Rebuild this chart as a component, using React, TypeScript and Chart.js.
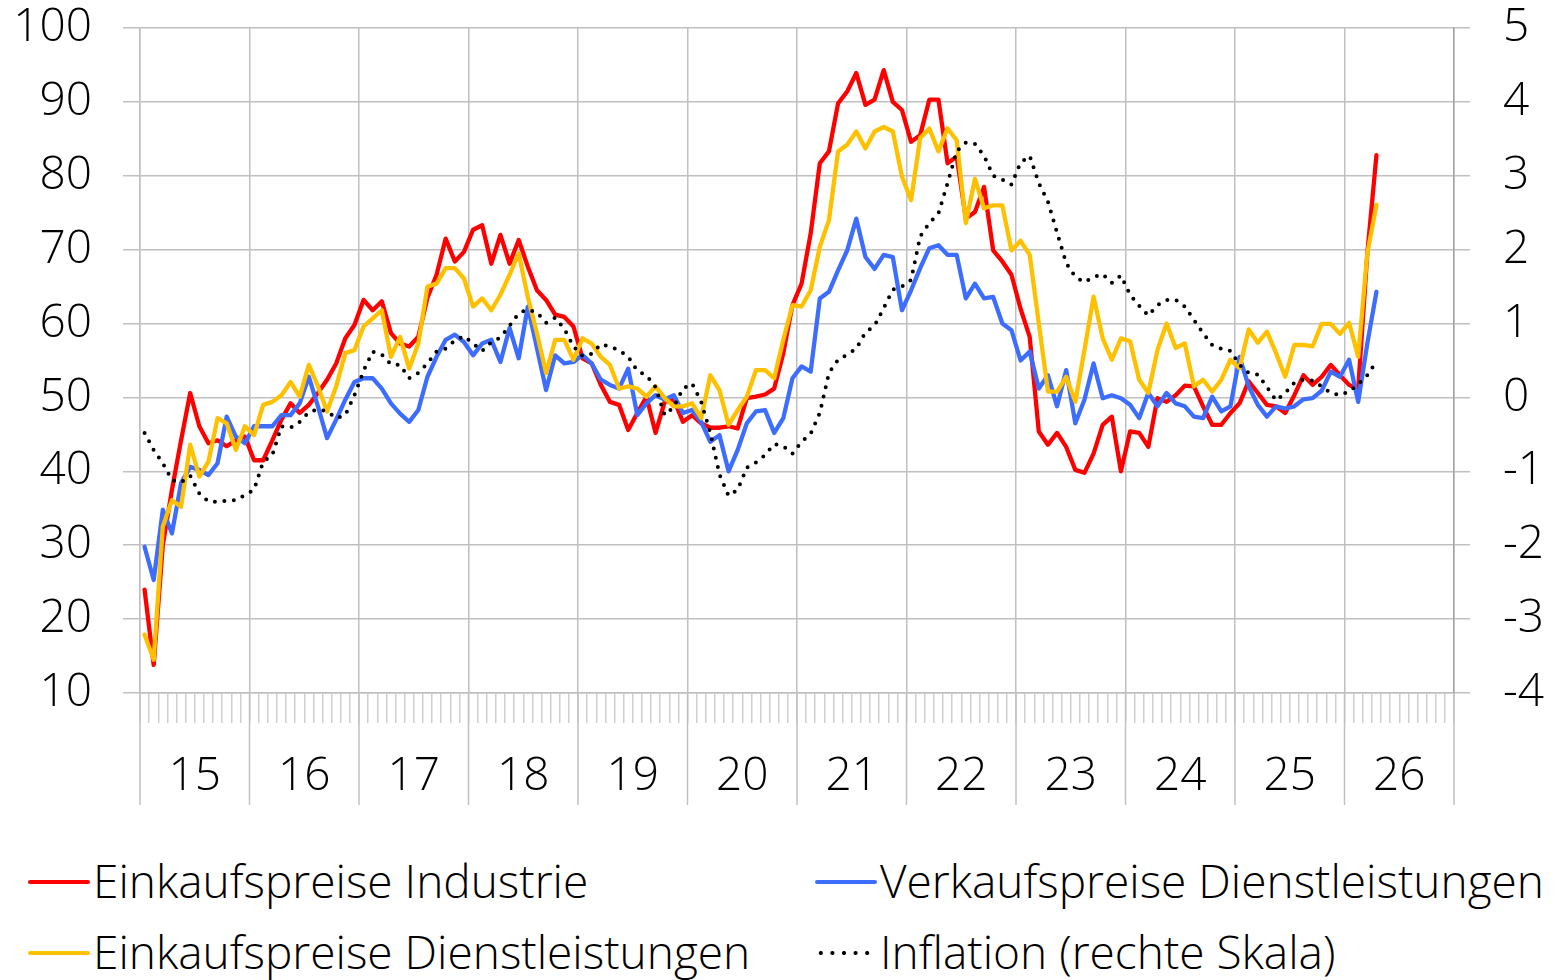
import React, { useEffect, useRef } from 'react';
import { Chart, registerables } from 'chart.js';
Chart.register(...registerables);

const yearLabels = ['15', '16', '17', '18', '19', '20', '21', '22', '23', '24', '25', '26'];
const monthsTotal = 144;

const einkaufIndustrie = [
  24.0, 13.8, 30, 37.5, 44.2, 50.6, 46.1, 43.8, 44.2, 43.4, 44.2, 44.7,
  41.5, 41.5, 44.2, 47, 49.2, 47.9, 49, 50.6, 52.4, 54.6, 58, 59.8,
  63.2, 61.8, 63.0, 58.7, 57.3, 56.9, 58.2, 63.5, 66.6, 71.5, 68.4, 69.7,
  72.7, 73.3, 68.1, 72, 68.1, 71.3, 67.7, 64.5, 63.2, 61.2, 60.9, 59.6,
  55.3, 54.6, 51.7, 49.4, 49.0, 45.6, 47.9, 50.1, 45.2, 49.4, 49.7, 46.7,
  47.6, 46.5, 45.9, 45.9, 46.1, 45.8, 49.9, 50.1, 50.4, 51.2, 56, 62.5,
  65.4, 72.2, 81.7, 83.3, 89.8, 91.4, 93.9, 89.6, 90.3, 94.3, 90.0, 88.9,
  84.6, 85.5, 90.3, 90.3, 81.7, 82.6, 74.2, 75.1, 78.5, 69.9, 68.4, 66.6,
  62, 58.2, 45.4, 43.6, 45.2, 43.3, 40.2, 39.8, 42.4, 46.3, 47.4, 40.0,
  45.4, 45.2, 43.3, 49.9, 49.4, 50.3, 51.6, 51.5, 48.8, 46.3, 46.3, 47.9,
  49.2, 52.2, 50.6, 49.0, 48.8, 47.9, 50.3, 53.0, 51.7, 52.8, 54.4, 53.0,
  51.7, 51.2, 69.5, 82.8,
];

const verkaufDienst = [
  29.8, 25.3, 34.8, 31.6, 38.4, 40.6, 40.2, 39.5, 41.1, 47.4, 44.7, 43.8,
  46.1, 46.1, 46.1, 47.6, 47.6, 49.2, 52.8, 48.8, 44.5, 47, 49.7, 52.1,
  52.6, 52.6, 51.2, 49.2, 47.8, 46.7, 48.3, 52.8, 55.5, 57.8, 58.5, 57.5,
  55.7, 57.3, 57.8, 54.8, 59.4, 55.3, 62.3, 56.7, 51, 55.7, 54.6, 54.8,
  55.75, 54.6, 52.4, 51.7, 51.2, 53.9, 47.6, 49.2, 50.3, 49.7, 50.3, 47.9,
  48.3, 46.7, 44, 44.9, 40, 42.9, 46.5, 48.1, 48.3, 45.2, 47.2, 52.6,
  54.2, 53.5, 63.4, 64.3, 67.2, 69.9, 74.2, 69.0, 67.4, 69.3, 69.0, 61.8,
  64.5, 67.5, 70.2, 70.6, 69.3, 69.3, 63.4, 65.4, 63.4, 63.6, 60.0, 59.1,
  55, 56.2, 51.2, 53.0, 48.8, 53.7, 46.5, 49.7, 54.6, 49.9, 50.3, 49.9,
  49.0, 47.2, 50.6, 48.8, 50.6, 49.2, 48.8, 47.4, 47.2, 50.1, 48.1, 48.8,
  55.5, 51.5, 49.0, 47.4, 48.8, 48.5, 48.8, 49.75, 49.9, 50.9, 53.5, 52.8,
  55.1, 49.4, 57.3, 64.3,
];

const einkaufDienst = [
  17.9, 14.5, 32.5, 36.1, 35.2, 43.6, 39.3, 41.3, 47.2, 46.5, 42.9, 46.1,
  44.9, 49.0, 49.4, 50.3, 52.1, 50.1, 54.4, 51.5, 48.1, 51.5, 56, 56.4,
  59.6, 60.7, 61.8, 55.5, 58.2, 53.9, 57.3, 65, 65.4, 67.5, 67.5, 66.1,
  62.3, 63.4, 61.8, 63.9, 66.6, 69.5, 63.6, 58.7, 53.3, 57.8, 57.8, 55.1,
  58, 57.3, 55.5, 54.4, 51.2, 51.5, 51.2, 50.1, 51.5, 49.9, 48.8, 48.8,
  49.2, 47.2, 53.0, 51.0, 46.3, 48.3, 50.1, 53.7, 53.7, 52.6, 57.8, 62.5,
  62.3, 64.5, 70.4, 74, 83.3, 84.2, 86, 83.7, 86, 86.6, 86, 79.9,
  76.7, 85.1, 86.4, 83.3, 86.4, 84.8, 73.6, 79.6, 75.6, 76.0, 76.0, 69.9,
  71.2, 69.3, 60.0, 50.8, 50.8, 52.8, 49.4, 56.4, 63.65, 58.0, 55.1, 58.0,
  57.6, 52.4, 50.6, 56.4, 60.0, 56.7, 57.3, 51.5, 52.4, 50.8, 52.4, 55.1,
  53.95, 59.2, 57.4, 58.9, 56.0, 52.8, 57.1, 57.1, 56.9, 59.95, 59.95, 58.6,
  60.1, 55.5, 69.5, 76.05,
];

const inflation = [
  -0.48, -0.71, -0.89, -1.12, -1.15, -1.06, -1.3, -1.41, -1.41, -1.4, -1.39, -1.32,
  -1.25, -0.87, -0.78, -0.39, -0.41, -0.33, -0.2, -0.16, -0.19, -0.28, -0.24, 0.03,
  0.36, 0.62, 0.58, 0.45, 0.44, 0.26, 0.33, 0.46, 0.62, 0.66, 0.77, 0.83,
  0.73, 0.63, 0.75, 0.81, 0.97, 1.14, 1.19, 1.15, 1.01, 1.08, 0.93, 0.69,
  0.56, 0.59, 0.72, 0.69, 0.64, 0.55, 0.36, 0.3, 0.14, -0.24, -0.13, 0.12,
  0.19, -0.06, -0.48, -1.04, -1.33, -1.25, -0.95, -0.88, -0.78, -0.63, -0.66, -0.76,
  -0.6, -0.49, -0.21, 0.33, 0.51, 0.58, 0.66, 0.88, 0.97, 1.21, 1.46, 1.5,
  1.59, 2.18, 2.36, 2.49, 2.9, 3.33, 3.45, 3.43, 3.27, 3.0, 2.95, 2.88,
  3.18, 3.27, 2.9, 2.65, 2.23, 1.82, 1.63, 1.56, 1.63, 1.67, 1.55, 1.65,
  1.39, 1.24, 1.11, 1.25, 1.32, 1.32, 1.23, 1.05, 0.87, 0.71, 0.66, 0.63,
  0.44, 0.33, 0.31, 0.14, -0.04, 0.06, 0.2, 0.24, 0.23, 0.15, 0.06, 0.03,
  0.08, 0.18, 0.3, 0.49,
];

const seriesNames = [
  'Einkaufspreise Industrie',
  'Verkaufspreise Dienstleistungen',
  'Einkaufspreise Dienstleistungen',
  'Inflation (rechte Skala)',
];

const RED = '#ff0000';
const BLUE = '#3d6dff';
const YELLOW = '#ffc000';
const GRID = '#c0c0c0';
const FONT = "'Open Sans', 'DejaVu Sans', sans-serif";
const FONT_SIZE = 46;

const W = 1555;
const CANVAS_H = 820;
const PLOT_LEFT = 140;
const PLOT_RIGHT = 1454;
const PLOT_TOP = 28;
const PLOT_BOTTOM = 693;
const YEAR_LINE_BOTTOM = 805;

const toPoints = (arr: number[]) => arr.map((v, i) => ({ x: i + 0.5, y: v }));

const yearLinesPlugin = {
  id: 'yearLines',
  afterDraw(chart: any) {
    const { ctx, chartArea, scales } = chart;
    const x = scales.x;
    ctx.save();
    ctx.strokeStyle = GRID;
    ctx.lineWidth = 1.5;
    for (let k = 0; k <= monthsTotal; k += 12) {
      const px = x.getPixelForValue(k);
      ctx.beginPath();
      ctx.moveTo(px, chartArea.bottom);
      ctx.lineTo(px, YEAR_LINE_BOTTOM);
      ctx.stroke();
    }
    ctx.restore();
  },
};

const noVerticalPadding = (s: any) => {
  s.paddingTop = 0;
  s.paddingBottom = 0;
};

function ChartCanvas() {
  const ref = useRef<HTMLCanvasElement | null>(null);
  useEffect(() => {
    if (!ref.current) return;
    const lineBase = {
      borderWidth: 4.3, pointRadius: 0, tension: 0,
      borderJoinStyle: 'round', borderCapStyle: 'round',
    };
    const chart = new Chart(ref.current, {
      type: 'line',
      data: {
        datasets: [
          { ...lineBase, label: seriesNames[0], data: toPoints(einkaufIndustrie), yAxisID: 'y', borderColor: RED, order: 4 },
          { ...lineBase, label: seriesNames[1], data: toPoints(verkaufDienst), yAxisID: 'y', borderColor: BLUE, order: 3 },
          { ...lineBase, label: seriesNames[2], data: toPoints(einkaufDienst), yAxisID: 'y', borderColor: YELLOW, order: 2 },
          {
            ...lineBase, label: seriesNames[3], data: toPoints(inflation), yAxisID: 'y1',
            borderColor: '#000000', borderWidth: 4, borderDash: [0, 9.5], order: 1,
          },
        ],
      } as any,
      options: {
        animation: false,
        responsive: false,
        maintainAspectRatio: false,
        events: [],
        layout: { padding: { top: PLOT_TOP, bottom: 0, left: 0, right: 0 } },
        plugins: { legend: { display: false }, tooltip: { enabled: false } },
        scales: {
          x: {
            type: 'linear',
            min: 0,
            max: monthsTotal,
            afterBuildTicks: (s: any) => {
              s.ticks = Array.from({ length: monthsTotal + 1 }, (_, i) => ({ value: i }));
            },
            afterFit: (s: any) => { s.height = CANVAS_H - PLOT_BOTTOM; },
            ticks: {
              autoSkip: false,
              maxRotation: 0,
              minRotation: 0,
              padding: 26,
              color: '#000',
              font: { family: FONT, size: FONT_SIZE, weight: '300' },
              callback: (v: any) => {
                const n = Math.round(Number(v));
                return n % 12 === 6 ? yearLabels[(n - 6) / 12] : '';
              },
            },
            grid: {
              color: (ctx: any) => (ctx.tick && Math.round(ctx.tick.value) % 12 === 0 ? GRID : 'rgba(0,0,0,0)'),
              lineWidth: 1.5,
              tickLength: 30,
              tickColor: '#cfcfcf',
              tickWidth: 1.5,
            },
            border: { color: GRID, width: 1.5 },
          },
          y: {
            position: 'left',
            min: 10,
            max: 100,
            afterFit: (s: any) => { s.width = PLOT_LEFT; noVerticalPadding(s); },
            ticks: {
              stepSize: 10,
              padding: 31,
              color: '#000',
              font: { family: FONT, size: FONT_SIZE, weight: '300' },
            },
            grid: { color: GRID, lineWidth: 1.5, tickLength: 17, tickColor: GRID },
            border: { color: GRID, width: 1.5 },
          },
          y1: {
            position: 'right',
            min: -4,
            max: 5,
            afterFit: (s: any) => { s.width = W - PLOT_RIGHT; noVerticalPadding(s); },
            ticks: {
              stepSize: 1,
              padding: 33,
              color: '#000',
              font: { family: FONT, size: FONT_SIZE, weight: '300' },
            },
            grid: { drawOnChartArea: false, lineWidth: 1.5, tickLength: 16, tickColor: GRID },
            border: { color: '#a3a3a3', width: 1.5 },
          },
        },
      } as any,
      plugins: [yearLinesPlugin],
    });
    return () => chart.destroy();
  }, []);
  return <canvas ref={ref} width={W} height={CANVAS_H} style={{ display: 'block', width: W, height: CANVAS_H }} />;
}

const legendItems = [
  { name: seriesNames[0], color: RED, dotted: false, left: 28, textLeft: 93, cy: 882 },
  { name: seriesNames[1], color: BLUE, dotted: false, left: 815, textLeft: 880, cy: 882 },
  { name: seriesNames[2], color: YELLOW, dotted: false, left: 28, textLeft: 93, cy: 953 },
  { name: seriesNames[3], color: '#000', dotted: true, left: 815, textLeft: 880, cy: 953 },
];

export default function App() {
  return (
    <div style={{ position: 'absolute', left: 0, top: 0, width: W, height: 980, background: '#fff', overflow: 'hidden' }}>
      <ChartCanvas />
      {legendItems.map((it) => (
        <React.Fragment key={it.name}>
          <div
            style={{
              position: 'absolute',
              left: it.left,
              top: it.cy - 2,
              width: it.dotted ? 58 : 62,
              height: 4,
              borderRadius: 2,
              background: it.dotted
                ? 'radial-gradient(circle, #000 1.7px, rgba(0,0,0,0) 2.3px) 0 0 / 11.6px 4px repeat-x'
                : it.color,
            }}
          />
          <div
            style={{
              position: 'absolute',
              left: it.textLeft,
              top: it.cy - 2 - 30,
              height: 60,
              lineHeight: '60px',
              fontFamily: FONT,
              fontWeight: 300,
              fontSize: FONT_SIZE,
              color: '#000',
              whiteSpace: 'nowrap',
            }}
          >
            {it.name}
          </div>
        </React.Fragment>
      ))}
    </div>
  );
}
